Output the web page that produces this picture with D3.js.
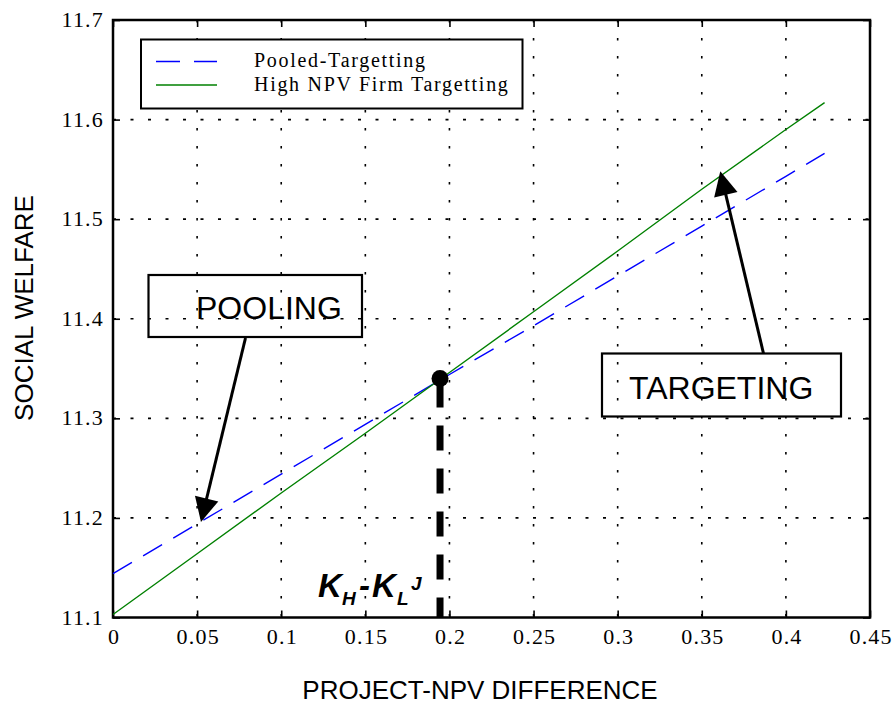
<!DOCTYPE html>
<html>
<head>
<meta charset="utf-8">
<script src="https://cdn.jsdelivr.net/npm/d3@7"></script>
<style>
  body { margin: 0; background: #fff; }
  svg { display: block; }
</style>
</head>
<body>
<div id="chart"></div>
<script>
// data
const npvDiff = [0, 0.05, 0.1, 0.15, 0.2, 0.25, 0.3, 0.35, 0.4, 0.423];
const pooledTargetting = [11.144, 11.194, 11.244, 11.294, 11.344, 11.393, 11.443, 11.493, 11.543, 11.566];
const highNpvTargetting = [11.103, 11.164, 11.225, 11.285, 11.346, 11.407, 11.468, 11.530, 11.590, 11.617];
const xTicks = [0, 0.05, 0.1, 0.15, 0.2, 0.25, 0.3, 0.35, 0.4, 0.45];
const yTicks = [11.1, 11.2, 11.3, 11.4, 11.5, 11.6, 11.7];
const seriesNames = ['Pooled-Targetting', 'High NPV Firm Targetting'];
const crossPoint = [0.1944, 11.340];
const poolingTip = [0.0523, 11.196];
const targetingTip = [0.361, 11.548];

const width = 896, height = 704;
const margin = {top: 20, right: 26, bottom: 86.5, left: 113};
const _width = width - margin.left - margin.right;
const _height = height - margin.top - margin.bottom;

const svg = d3.select('#chart').append('svg')
  .attr('width', width)
  .attr('height', height);

const g = svg.append('g')
  .attr('transform', `translate(${margin.left},${margin.top})`);

const xScale = d3.scaleLinear().domain([0, 0.45]).range([0, _width]);
const yScale = d3.scaleLinear().domain([11.1, 11.7]).range([_height, 0]);

const serif = '"Liberation Serif", "Times New Roman", serif';
const sans = '"Liberation Sans", Arial, sans-serif';

// dotted grid
g.append('g').selectAll('line')
  .data(xTicks.slice(1, -1))
  .enter().append('line')
  .attr('x1', d => xScale(d)).attr('x2', d => xScale(d))
  .attr('y1', 0).attr('y2', _height)
  .attr('stroke', '#000').attr('stroke-width', 1.6)
  .attr('stroke-dasharray', '2.5,15.5');

g.append('g').selectAll('line')
  .data(yTicks.slice(1, -1))
  .enter().append('line')
  .attr('y1', d => yScale(d)).attr('y2', d => yScale(d))
  .attr('x1', 0).attr('x2', _width)
  .attr('stroke', '#000').attr('stroke-width', 1.6)
  .attr('stroke-dasharray', '3,14.5');

// axes, ticks inward on all four sides
const tickStyle = sel => {
  sel.attr('font-family', serif).attr('font-size', 22);
  sel.select('.domain').remove();
  sel.selectAll('.tick line').attr('stroke', '#000').attr('stroke-width', 1.6);
  sel.selectAll('text')
    .attr('fill', '#000')
    .style('font-family', serif)
    .style('font-size', '22px')
    .style('letter-spacing', '1.2px');
};

g.append('g')
  .attr('transform', `translate(0,${_height})`)
  .call(d3.axisBottom(xScale).tickValues(xTicks).tickSizeInner(-7).tickSizeOuter(0)
    .tickFormat(d3.format('')))
  .call(tickStyle)
  .call(s => s.selectAll('text').attr('dy', 0).attr('y', 26).attr('dx', 0.6));

g.append('g')
  .call(d3.axisTop(xScale).tickValues(xTicks).tickSizeInner(-7).tickSizeOuter(0).tickFormat(''))
  .call(tickStyle);

g.append('g')
  .call(d3.axisLeft(yScale).tickValues(yTicks).tickSizeInner(-7).tickSizeOuter(0)
    .tickFormat(d3.format('.1f')))
  .call(tickStyle)
  .call(s => s.selectAll('text').attr('dy', '0.3em').attr('x', -9));

g.append('g')
  .attr('transform', `translate(${_width},0)`)
  .call(d3.axisRight(yScale).tickValues(yTicks).tickSizeInner(-7).tickSizeOuter(0).tickFormat(''))
  .call(tickStyle);

// frame
g.append('rect')
  .attr('x', 0).attr('y', 0)
  .attr('width', _width).attr('height', _height)
  .attr('fill', 'none').attr('stroke', '#000').attr('stroke-width', 2.5);

// series
const line = d3.line()
  .x((d, i) => xScale(npvDiff[i]))
  .y(d => yScale(d));

g.append('path')
  .datum(pooledTargetting)
  .attr('d', line)
  .attr('fill', 'none')
  .attr('stroke', '#0000ff')
  .attr('stroke-width', 1.4)
  .attr('stroke-dasharray', '22,13');

g.append('path')
  .datum(highNpvTargetting)
  .attr('d', line)
  .attr('fill', 'none')
  .attr('stroke', '#008000')
  .attr('stroke-width', 1.4);

// threshold marker
const cx = xScale(crossPoint[0]), cy = yScale(crossPoint[1]);
g.append('line')
  .attr('x1', cx).attr('x2', cx)
  .attr('y1', cy + 4).attr('y2', _height)
  .attr('stroke', '#000').attr('stroke-width', 7)
  .attr('stroke-dasharray', '25,18');
g.append('circle')
  .attr('cx', cx).attr('cy', cy).attr('r', 8.5)
  .attr('fill', '#000');

// K_H - K_L^J label
const kLabel = svg.append('text')
  .attr('x', 318).attr('y', 597)
  .style('font-family', sans)
  .style('font-weight', 'bold')
  .style('font-style', 'italic')
  .style('font-size', '33px')
  .attr('fill', '#000');
kLabel.append('tspan').text('K');
kLabel.append('tspan').attr('x', 342).attr('y', 605).style('font-size', '19px').text('H');
kLabel.append('tspan').attr('x', 359).attr('y', 597).text('-');
kLabel.append('tspan').attr('x', 372).attr('y', 597).text('K');
kLabel.append('tspan').attr('x', 397).attr('y', 605).style('font-size', '19px').text('L');
kLabel.append('tspan').attr('x', 411).attr('y', 590).style('font-size', '19px').text('J');

// callout boxes with arrows
const arrowHead = (x1, y1, x2, y2, len, half) => {
  const a = Math.atan2(y2 - y1, x2 - x1);
  const bx = x2 - len * Math.cos(a), by = y2 - len * Math.sin(a);
  const px = -Math.sin(a) * half, py = Math.cos(a) * half;
  return [[x2, y2], [bx + px, by + py], [bx - px, by - py]];
};

function callout(box, label, textX, textY, from, tip) {
  svg.append('rect')
    .attr('x', box[0]).attr('y', box[1])
    .attr('width', box[2]).attr('height', box[3])
    .attr('fill', 'none').attr('stroke', '#000').attr('stroke-width', 2.2);
  svg.append('text')
    .attr('x', textX).attr('y', textY)
    .style('font-family', sans)
    .style('font-size', '32px')
    .attr('fill', '#000')
    .text(label);
  const tx = xScale(tip[0]) + margin.left, ty = yScale(tip[1]) + margin.top;
  const head = arrowHead(from[0], from[1], tx, ty, 24, 12);
  const a = Math.atan2(ty - from[1], tx - from[0]);
  svg.append('line')
    .attr('x1', from[0]).attr('y1', from[1])
    .attr('x2', tx - 20 * Math.cos(a)).attr('y2', ty - 20 * Math.sin(a))
    .attr('stroke', '#000').attr('stroke-width', 3);
  svg.append('path')
    .attr('d', d3.line()(head) + 'Z')
    .attr('fill', '#000');
}

callout([148.5, 275, 213.5, 62], 'POOLING', 196, 319, [245.5, 338], poolingTip);
callout([602, 353.5, 239, 63], 'TARGETING', 629, 398.5, [763.5, 353.5], targetingTip);

// legend
const legend = svg.append('g');
legend.append('rect')
  .attr('x', 141).attr('y', 39.5)
  .attr('width', 381.5).attr('height', 69)
  .attr('fill', '#fff').attr('stroke', '#000').attr('stroke-width', 2);

const legendStyles = [
  {color: '#0000ff', dash: '24,14', y: 61.5},
  {color: '#008000', dash: null, y: 85}
];
seriesNames.forEach((name, i) => {
  const s = legendStyles[i];
  legend.append('line')
    .attr('x1', 156).attr('x2', 217)
    .attr('y1', s.y).attr('y2', s.y)
    .attr('stroke', s.color).attr('stroke-width', 1.4)
    .attr('stroke-dasharray', s.dash);
  legend.append('text')
    .attr('x', 254).attr('y', s.y + 5.5)
    .style('font-family', serif)
    .style('font-size', '20px')
    .style('letter-spacing', '1.7px')
    .attr('fill', '#000')
    .text(name);
});

// axis titles
svg.append('text')
  .attr('x', 480).attr('y', 699)
  .attr('text-anchor', 'middle')
  .style('font-family', sans)
  .style('font-size', '26px')
  .attr('fill', '#000')
  .text('PROJECT-NPV DIFFERENCE');

svg.append('text')
  .attr('transform', 'translate(33,308) rotate(-90)')
  .attr('text-anchor', 'middle')
  .style('font-family', sans)
  .style('font-size', '26px')
  .attr('fill', '#000')
  .text('SOCIAL WELFARE');
</script>
</body>
</html>
